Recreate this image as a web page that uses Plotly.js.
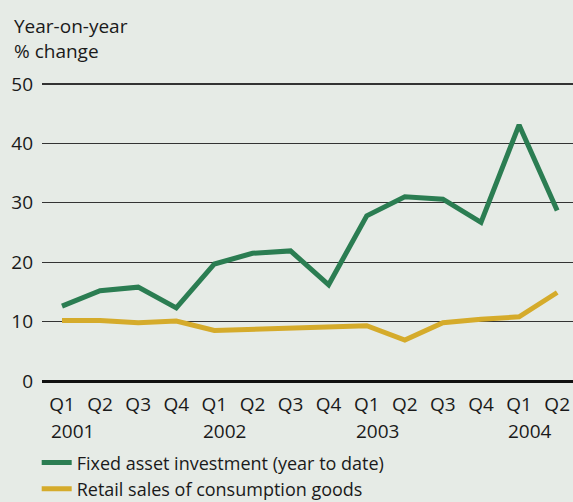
<!DOCTYPE html>
<html>
<head>
<meta charset="utf-8">
<script src="https://cdn.plot.ly/plotly-3.0.1.min.js"></script>
<style>
html,body{margin:0;padding:0;background:#e6ebe6;}
#chart{width:573px;height:502px;}
</style>
</head>
<body>
<div id="chart"></div>
<script>
var quarters = ["Q1","Q2","Q3","Q4","Q1","Q2","Q3","Q4","Q1","Q2","Q3","Q4","Q1","Q2"];
var years = ["2001","2002","2003","2004"];
var yearIndex = [0,4,8,12];
var fixedAsset = [12.6,15.2,15.8,12.3,19.7,21.5,21.9,16.2,27.8,31.0,30.6,26.7,43.1,28.7];
var retailSales = [10.2,10.2,9.8,10.1,8.5,8.7,8.9,9.3,9.3,6.9,9.8,10.4,10.8,14.9];
var yTicks = [0,10,20,30,40,50];

var idx = quarters.map(function(_,i){return i;});
var font = "'Open Sans', 'Noto Sans', sans-serif";
var fs = 19;

var traces = [
  {x: idx, y: fixedAsset, type:'scatter', mode:'lines', name:'Fixed asset investment (year to date)',
   line:{color:'#2b7d52', width:5}, cliponaxis:false},
  {x: idx, y: retailSales, type:'scatter', mode:'lines', name:'Retail sales of consumption goods',
   line:{color:'#d5ab2b', width:5}, cliponaxis:false}
];

var annotations = years.map(function(y,i){
  return {x: yearIndex[i], y: 0, xref:'x', yref:'paper', xshift:-13, yshift:-50, text:y, showarrow:false,
          font:{family:font, size:fs, color:'#1a1a1a'}, xanchor:'left', yanchor:'middle'};
});
annotations.push({x:0, y:1, xref:'paper', yref:'paper', xshift:-30, yshift:70, xanchor:'left', yanchor:'top', align:'left',
  text:'Year-on-year<br>% change', showarrow:false, font:{family:font, size:fs, color:'#1a1a1a'}});

var layout = {
  width:573, height:502,
  paper_bgcolor:'#e6ebe6', plot_bgcolor:'#e6ebe6',
  margin:{l:42, r:0, t:81, b:121},
  showlegend:true,
  legend:{x:-0.01, y:0.115, xref:'paper', yref:'container', xanchor:'left', yanchor:'top', orientation:'v',
          font:{family:font, size:18, color:'#1a1a1a'}, bgcolor:'rgba(0,0,0,0)', tracegroupgap:0, itemwidth:30},
  xaxis:{range:[-0.525,13.415], tickmode:'array', tickvals:idx, ticktext:quarters, showgrid:false,
         zeroline:false, showline:false, ticks:'', ticklabelstandoff:10, tickfont:{family:font, size:fs, color:'#1a1a1a'}, fixedrange:true, automargin:false},
  yaxis:{range:[0,50.5], tickmode:'array', tickvals:yTicks, ticktext:yTicks.map(String), showgrid:true,
         gridcolor:'#333333', gridwidth:1.3, zeroline:true, zerolinecolor:'#111111', zerolinewidth:3,
         showline:false, ticks:'', ticklabelstandoff:8, tickfont:{family:font, size:fs, color:'#1a1a1a'}, fixedrange:true, automargin:false},
  annotations: annotations,
  font:{family:font, size:fs, color:'#1a1a1a'}
};
Plotly.newPlot('chart', traces, layout, {displayModeBar:false, staticPlot:true});
</script>
</body>
</html>
